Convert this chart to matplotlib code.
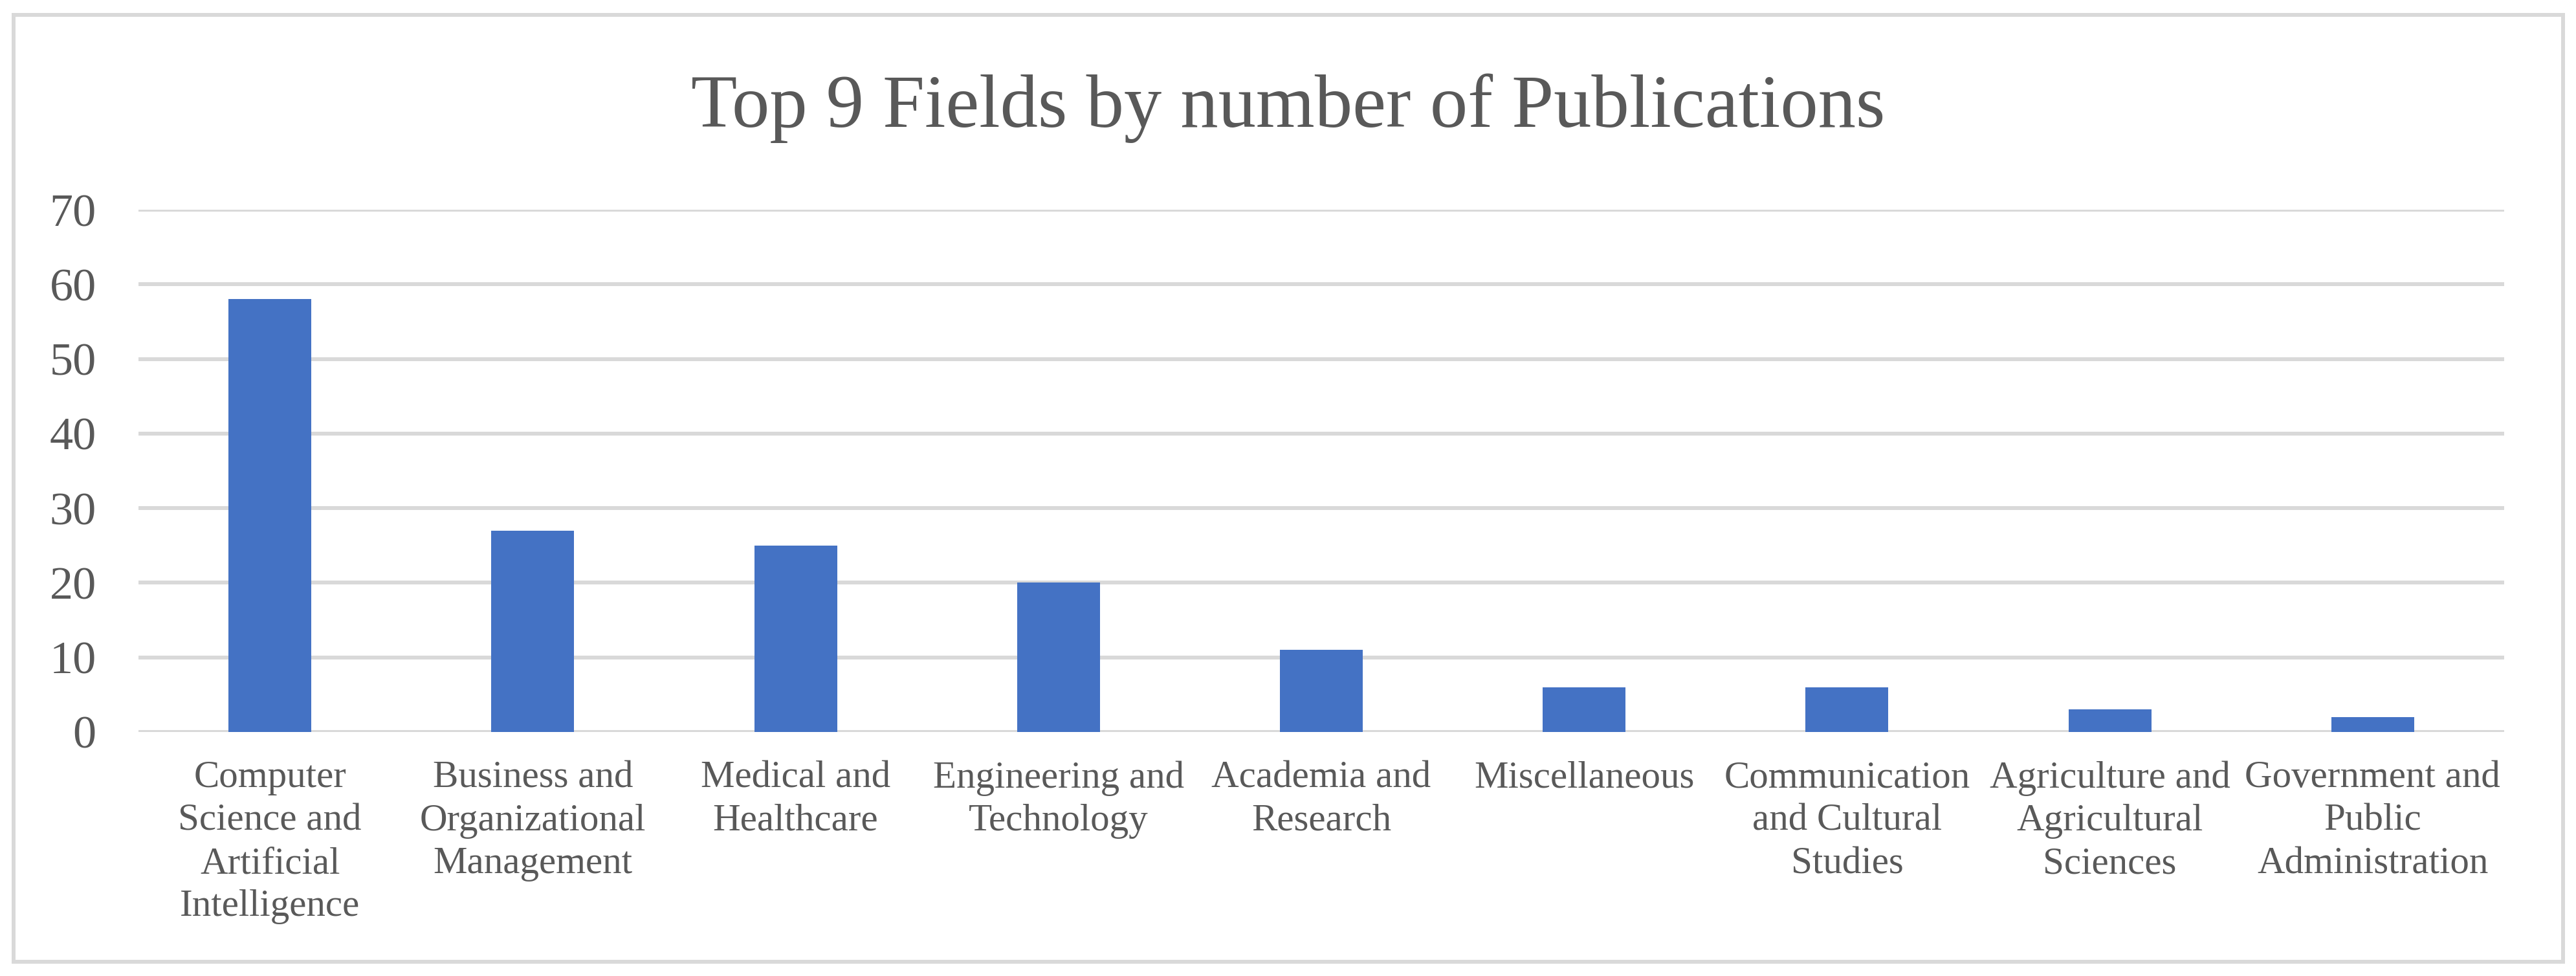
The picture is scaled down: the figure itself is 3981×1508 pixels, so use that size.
import matplotlib.pyplot as plt
from matplotlib.patches import Rectangle

# data
fields = ["Computer\nScience and\nArtificial\nIntelligence",
          "Business and\nOrganizational\nManagement",
          "Medical and\nHealthcare",
          "Engineering and\nTechnology",
          "Academia and\nResearch",
          "Miscellaneous",
          "Communication\nand Cultural\nStudies",
          "Agriculture and\nAgricultural\nSciences",
          "Government and\nPublic\nAdministration"]
publications = [58, 27, 25, 20, 11, 6, 6, 3, 2]
yticks = [0, 10, 20, 30, 40, 50, 60, 70]
title = "Top 9 Fields by number of Publications"

W, H, DPI = 3981, 1508, 100
grey_text = "#595959"
grid_col = "#D9D9D9"
bar_col = "#4472C4"

plt.rcParams["font.family"] = ["Liberation Serif", "DejaVu Serif"]

fig = plt.figure(figsize=(W / DPI, H / DPI), dpi=DPI)

# chart area border
fig.patches.append(Rectangle((21 / W, 1 - 1486 / H), (3961 - 21) / W, (1486 - 23) / H,
                             transform=fig.transFigure, fill=False,
                             edgecolor=grid_col, linewidth=4.3))

ax = fig.add_axes([214 / W, 1 - 1131 / H, (3870 - 214) / W, (1131 - 324) / H])
x = range(len(fields))
ax.bar(x, publications, width=0.315, color=bar_col, zorder=3)

ax.set_xlim(-0.5, len(fields) - 0.5)
ax.set_ylim(0, 70)
ax.set_yticks(yticks)
ax.set_yticklabels([str(v) for v in yticks], fontsize=52, color=grey_text)
ax.set_xticks(list(x))
ax.set_xticklabels(fields, fontsize=42.5, color=grey_text, linespacing=1.3, va="top")

for v in yticks:
    ax.axhline(v, color=grid_col, linewidth=4.3, zorder=1)

for s in ax.spines.values():
    s.set_visible(False)
ax.tick_params(axis="both", length=0)
ax.tick_params(axis="y", pad=47)
ax.tick_params(axis="x", pad=32)

fig.text(0.5, 1 - 196 / H, title, ha="center", va="baseline",
         fontsize=84, color=grey_text)

fig.savefig("out.png", dpi=DPI, facecolor="white")
